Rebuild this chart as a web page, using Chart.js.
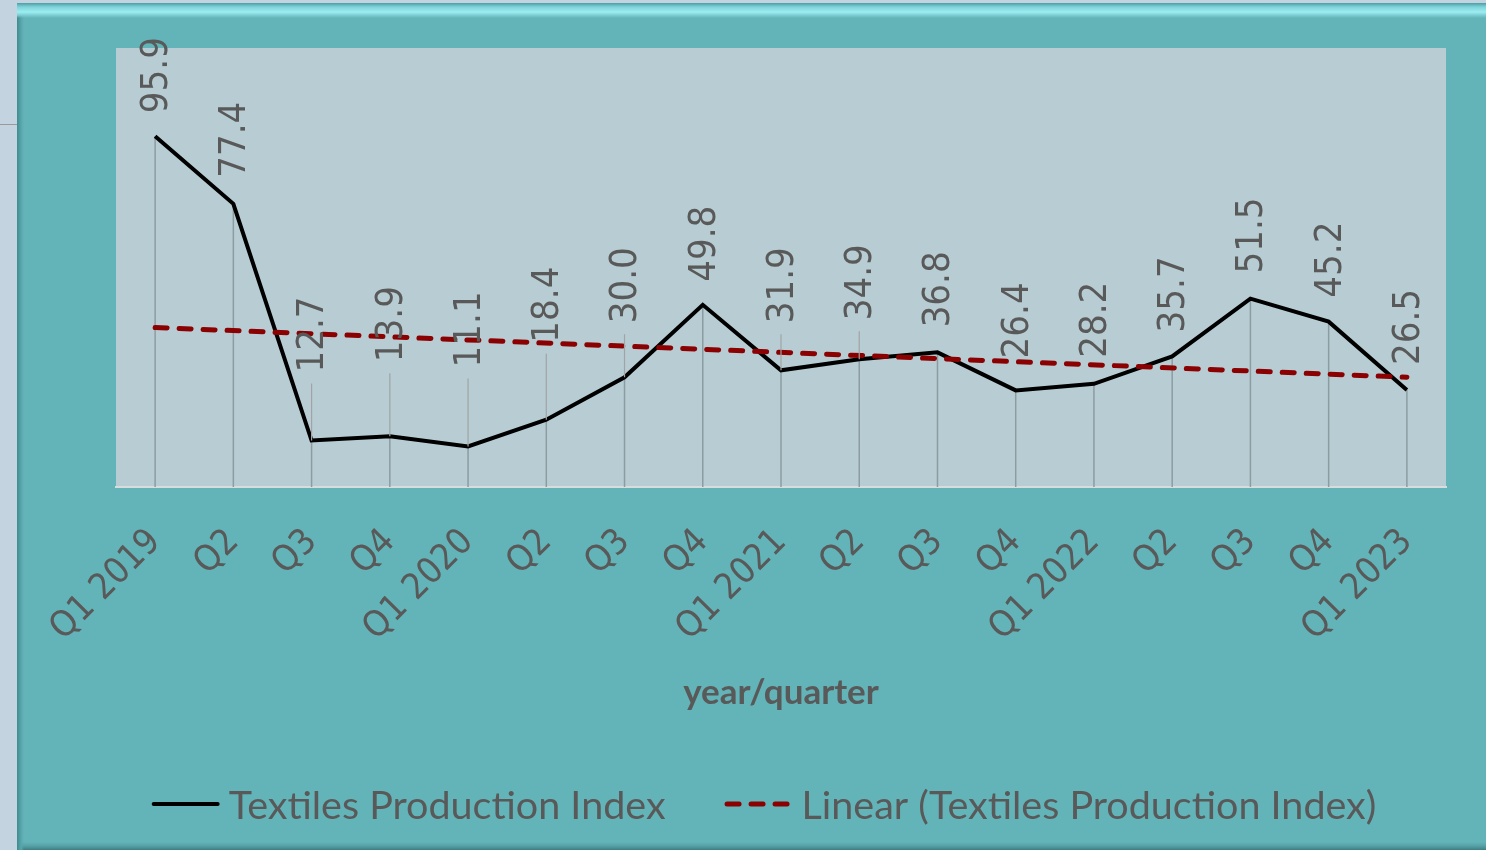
<!DOCTYPE html>
<html>
<head>
<meta charset="utf-8">
<script src="https://cdn.jsdelivr.net/npm/chart.js@4.4.1/dist/chart.umd.min.js"></script>
<style>
  html, body { margin: 0; padding: 0; }
  body { width: 1486px; height: 850px; background: #c3d3df; position: relative; overflow: hidden; }
  #frame {
    position: absolute; left: 17px; top: 3px; width: 1469px; height: 847px;
    background:
      linear-gradient(to bottom, #4c9ea3 0px, #7fd3d8 4px, #9beef2 9px, #7fd0d5 12px, rgba(99,180,185,0) 15px) top / 100% 15px no-repeat,
      linear-gradient(to right, #3f8a8e 0px, #57a6ab 4px, rgba(99,180,185,0) 7px) left / 7px 100% no-repeat,
      linear-gradient(to top, #3c7f83 0px, #55a0a5 4px, rgba(99,180,185,0) 8px) bottom / 100% 8px no-repeat,
      #63b4b9;
  }
  #mark { position: absolute; left: 0; top: 124px; width: 17px; height: 1px; background: #9a9a9a; }
  canvas { position: absolute; left: 0; top: 0; }
</style>
</head>
<body>
<div id="mark"></div>
<div id="frame"><canvas id="chart" width="1469" height="847"></canvas></div>
<script>
"use strict"

const quarters = ["Q1 2019", "Q2", "Q3", "Q4", "Q1 2020", "Q2", "Q3", "Q4", "Q1 2021",
  "Q2", "Q3", "Q4", "Q1 2022", "Q2", "Q3", "Q4", "Q1 2023"]
const textiles = [95.9, 77.4, 12.7, 13.9, 11.1, 18.4, 30.0, 49.8, 31.9,
  34.9, 36.8, 26.4, 28.2, 35.7, 51.5, 45.2, 26.5]
// trend line read at the first and last quarter, straight in between
const trendStart = 43.6
const trendEnd = 30.0
const trend = quarters.map((q, i) => i == 0 ? trendStart : (i == quarters.length - 1 ? trendEnd : null))

// how far (px) each value label sits above its point, as placed in the original
const labelGap = [23, 26, 68, 74, 79, 77, 54, 23, 47, 39, 25, 32, 26, 24, 25, 24, 25]

const grey = "#595959"
const numFont = "'DejaVu Sans Condensed', 'Noto Sans', sans-serif"
const textFont = "Lato, 'Open Sans', sans-serif"

const plotBg = {
  id: "plotBg",
  beforeDraw(chart) {
    const {ctx, chartArea: a} = chart
    ctx.save()
    ctx.fillStyle = "#b7cdd3"
    ctx.fillRect(a.left, a.top, a.right - a.left, a.bottom - a.top)
    ctx.restore()
  }
}

// drop lines from every point down to the axis
const dropLines = {
  id: "dropLines",
  beforeDatasetsDraw(chart) {
    const {ctx, chartArea: a} = chart
    const pts = chart.getDatasetMeta(0).data
    ctx.save()
    ctx.strokeStyle = "#8c9ca1"
    ctx.lineWidth = 1.5
    pts.forEach(p => {
      ctx.beginPath()
      ctx.moveTo(p.x, p.y)
      ctx.lineTo(p.x, a.bottom)
      ctx.stroke()
    })
    ctx.restore()
  }
}

// rotated value labels, with leader lines for the ones pushed up
const valueLabels = {
  id: "valueLabels",
  afterDatasetsDraw(chart) {
    const {ctx} = chart
    const pts = chart.getDatasetMeta(0).data
    ctx.save()
    pts.forEach((p, i) => {
      const gap = labelGap[i]
      if (gap > 35) {
        ctx.strokeStyle = "#a3a3a3"
        ctx.lineWidth = 1.2
        ctx.beginPath()
        ctx.moveTo(p.x, p.y - gap + 11)
        ctx.lineTo(p.x, p.y)
        ctx.stroke()
      }
      ctx.save()
      ctx.translate(p.x + 2, p.y - gap)
      ctx.rotate(-Math.PI / 2)
      ctx.font = "38px " + numFont
      ctx.fillStyle = grey
      ctx.textAlign = "left"
      ctx.textBaseline = "middle"
      ctx.fillText(textiles[i].toFixed(1), 0, 0)
      ctx.restore()
    })
    ctx.restore()
  }
}

const bottomLegend = {
  id: "bottomLegend",
  afterDraw(chart) {
    const {ctx} = chart
    const y = 801, sw = 68, tgap = 9, igap = 59
    ctx.save()
    ctx.font = "39.5px " + textFont
    const items = chart.data.datasets.map(d => ({d, w: ctx.measureText(d.label).width}))
    const total = items.reduce((s, it) => s + sw + tgap + it.w, 0) + igap * (items.length - 1)
    let x = 747 - total / 2
    items.forEach(({d, w}) => {
      ctx.strokeStyle = d.borderColor
      ctx.lineWidth = d.borderWidth
      ctx.lineCap = "round"
      ctx.setLineDash(d.borderDash || [])
      ctx.beginPath()
      ctx.moveTo(x + d.borderWidth / 2, y)
      ctx.lineTo(x + sw - d.borderWidth / 2, y)
      ctx.stroke()
      ctx.setLineDash([])
      ctx.fillStyle = grey
      ctx.textAlign = "left"
      ctx.textBaseline = "middle"
      ctx.fillText(d.label, x + sw + tgap, y + 2)
      x += sw + tgap + w + igap
    })
    ctx.restore()
  }
}

new Chart("chart", {
  type: "line",
  data: {
    labels: quarters,
    datasets: [
      { label: "Textiles Production Index", data: textiles, borderColor: "#000000",
        borderWidth: 4, pointRadius: 0, tension: 0, borderJoinStyle: "miter", order: 1 },
      { label: "Linear (Textiles Production Index)", data: trend, borderColor: "#8b0000",
        borderWidth: 5, borderDash: [12, 12], borderCapStyle: "round", spanGaps: true,
        pointRadius: 0, tension: 0, order: 0 }
    ]
  },
  options: {
    responsive: false,
    animation: false,
    layout: { padding: { left: 99, right: 40, top: 45, bottom: 0 } },
    plugins: { legend: { display: false }, tooltip: { enabled: false } },
    scales: {
      y: { display: false, min: 0, max: 120 },
      x: {
        offset: true,
        grid: { display: false },
        border: { display: true, color: "#d9dcdd", width: 2 },
        ticks: {
          color: grey, autoSkip: false, minRotation: 45, maxRotation: 45, padding: 26,
          font: { family: numFont, size: 36 }
        },
        title: {
          display: true, text: "year/quarter", color: grey,
          font: { family: textFont, size: 35, weight: "bold" },
          padding: { top: 0, bottom: 136 }
        },
        afterFit: s => { s.height = 363 }
      }
    }
  },
  plugins: [plotBg, dropLines, valueLabels, bottomLegend]
})
</script>
</body>
</html>
